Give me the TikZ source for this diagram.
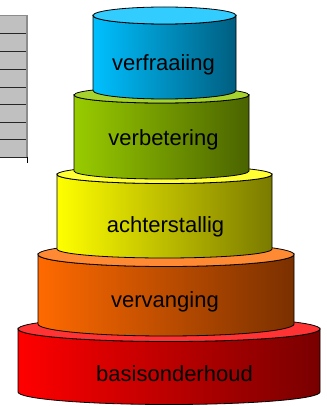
\documentclass[tikz,border=0pt]{standalone}
\usepackage{fontspec}
\setmainfont{Liberation Sans}
\definecolor{bluetop}{HTML}{33CCFF}
\definecolor{blueL}{HTML}{00C0FF}
\definecolor{blueR}{HTML}{005E80}
\definecolor{greentop}{HTML}{A6D22E}
\definecolor{greenL}{HTML}{99CC00}
\definecolor{greenR}{HTML}{4A6300}
\definecolor{yellowtop}{HTML}{FFFF33}
\definecolor{yellowL}{HTML}{FFFF00}
\definecolor{yellowR}{HTML}{7A7A00}
\definecolor{orangetop}{HTML}{FF8A33}
\definecolor{orangeL}{HTML}{FF6A00}
\definecolor{orangeR}{HTML}{7A3000}
\definecolor{redtop}{HTML}{FF3333}
\definecolor{redL}{HTML}{FF0000}
\definecolor{redR}{HTML}{780000}
\definecolor{tablegray}{HTML}{C0C0C0}
\definecolor{tableedge}{HTML}{8C8C8C}
\tikzset{
  edge/.style={draw=black, line width=0.8pt},
  label/.style={anchor=base, inner sep=0pt, font=\fontsize{22}{26}\selectfont, text=black},
}
% cx, ytop, ybot, rx, ry, topcolor, leftcolor, rightcolor
\newcommand{\tier}[8]{%
  \path[edge, left color=#7, right color=#8]
    (#1-#4,#2) -- (#1-#4,#3)
    arc[start angle=180, end angle=0, x radius=#4, y radius=#5]
    -- (#1+#4,#2)
    arc[start angle=0, end angle=180, x radius=#4, y radius=#5] -- cycle;
  \path[edge, fill=#6] (#1,#2) ellipse[x radius=#4, y radius=#5];
}
\begin{document}
\begin{tikzpicture}[x=1pt,y=-1pt]
\useasboundingbox (0,0) rectangle (326,406);
% table on the left
\fill[tablegray] (-2,15) rectangle (27,157);
\draw[tableedge, line width=0.6pt] (-2,15) -- (27,15);
\foreach \yy in {33,51,69,87,104,122,139,157}
  \draw[black!85, line width=0.9pt] (-2,\yy) -- (27,\yy);
\draw[tableedge, line width=2pt] (27,15) -- (27,157);
\draw[black, line width=0.9pt] (27.6,156.5) -- (27.6,163);
% tiers, bottom to top
\tier{169}{329}{392}{151}{12.5}{redtop}{redL}{redR}
\tier{166}{254.5}{324}{128}{12}{orangetop}{orangeL}{orangeR}
\tier{164.5}{174.5}{249}{107.5}{9}{yellowtop}{yellowL}{yellowR}
\tier{161.5}{95}{171}{87.5}{8}{greentop}{greenL}{greenR}
\tier{164.5}{15.5}{90.5}{71.5}{8.5}{bluetop}{blueL}{blueR}
% labels
\node[label] (l1) at (163.5,71) {verfraaiing};
\node[label] (l2) at (163.5,145.7) {verbetering};
\node[label] (l3) at (165.5,232.7) {achterstallig};
\node[label] (l4) at (165,307) {vervanging};
\node[label] (l5) at (174.5,381.7) {basisonderhoud};
\end{tikzpicture}
\end{document}
